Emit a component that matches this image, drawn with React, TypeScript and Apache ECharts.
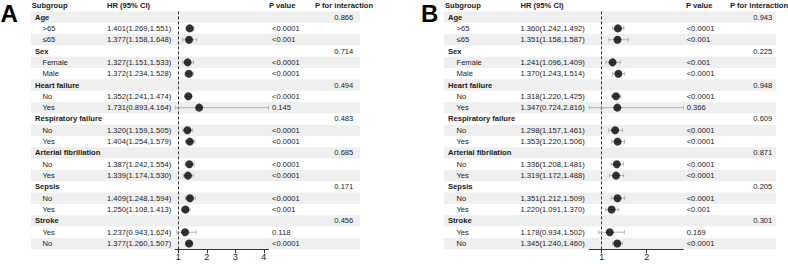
import React, { useEffect, useRef } from "react";
import * as echarts from "echarts";

const FONT = "'Liberation Sans', Arial, Helvetica, sans-serif";

const headers = ["Subgroup", "HR (95% CI)", "P value", "P for interaction"];
const groupRows = [0, 3, 6, 9, 12, 15, 18];

const labelsA = ["Age", ">65", "≤65", "Sex", "Female", "Male", "Heart failure", "No", "Yes", "Respiratory failure", "No", "Yes", "Arterial fibrillation", "No", "Yes", "Sepsis", "No", "Yes", "Stroke", "Yes", "No"];
const hrA = [null, 1.401, 1.377, null, 1.327, 1.372, null, 1.352, 1.731, null, 1.32, 1.404, null, 1.387, 1.339, null, 1.409, 1.25, null, 1.237, 1.377];
const lowA = [null, 1.269, 1.158, null, 1.151, 1.234, null, 1.241, 0.893, null, 1.159, 1.254, null, 1.242, 1.174, null, 1.248, 1.108, null, 0.943, 1.26];
const highA = [null, 1.551, 1.648, null, 1.533, 1.528, null, 1.474, 4.164, null, 1.505, 1.579, null, 1.554, 1.53, null, 1.594, 1.413, null, 1.624, 1.507];
const pA = ["", "<0.0001", "<0.001", "", "<0.0001", "<0.0001", "", "<0.0001", "0.145", "", "<0.0001", "<0.0001", "", "<0.0001", "<0.0001", "", "<0.0001", "<0.001", "", "0.118", "<0.0001"];
const pIntA = ["0.866", "", "", "0.714", "", "", "0.494", "", "", "0.483", "", "", "0.685", "", "", "0.171", "", "", "0.456", "", ""];
const ticksA = [1, 2, 3, 4];

const labelsB = ["Age", ">65", "≤65", "Sex", "Female", "Male", "Heart failure", "No", "Yes", "Respiratory failure", "No", "Yes", "Arterial fibrilation", "No", "Yes", "Sepsis", "No", "Yes", "Stroke", "Yes", "No"];
const hrB = [null, 1.36, 1.351, null, 1.241, 1.37, null, 1.318, 1.347, null, 1.298, 1.353, null, 1.336, 1.319, null, 1.351, 1.22, null, 1.178, 1.345];
const lowB = [null, 1.242, 1.158, null, 1.096, 1.243, null, 1.22, 0.724, null, 1.157, 1.22, null, 1.208, 1.172, null, 1.212, 1.091, null, 0.934, 1.24];
const highB = [null, 1.492, 1.587, null, 1.409, 1.514, null, 1.425, 2.816, null, 1.461, 1.506, null, 1.481, 1.488, null, 1.509, 1.37, null, 1.502, 1.46];
const pB = ["", "<0.0001", "<0.001", "", "<0.001", "<0.0001", "", "<0.0001", "0.366", "", "<0.0001", "<0.0001", "", "<0.0001", "<0.0001", "", "<0.0001", "<0.001", "", "0.169", "<0.0001"];
const pIntB = ["0.943", "", "", "0.225", "", "", "0.948", "", "", "0.609", "", "", "0.871", "", "", "0.205", "", "", "0.301", "", ""];
const ticksB = [1, 2];

const panelLabels = ["A", "B"];

type Layout = {
  stripeL: number; stripeR: number; headX: number; groupX: number; subX: number;
  hrX: number; pX: number; pHeadX: number; pintX: number; pintHeadX: number;
  gridLeft: number; gridWidth: number; letterX: number;
};

const layoutA: Layout = { stripeL: 31, stripeR: 360, headX: 31.7, groupX: 35, subX: 42.5, hrX: 107, pX: 272, pHeadX: 269, pintX: 334.3, pintHeadX: 315, gridLeft: 175.25, gridWidth: 93.25, letterX: 0.5 };
const layoutB: Layout = { stripeL: 444, stripeR: 776, headX: 445, groupX: 448, subX: 456.5, hrX: 520.5, pX: 686.7, pHeadX: 686, pintX: 753.3, pintHeadX: 730, gridLeft: 589.3, gridWidth: 94.1, letterX: 421 };

const GRID_TOP = 11.4;
const GRID_H = 237.8;
const TXT = "#1a1a1a";
const FS = 7.6;

function fmt(v: number) {
  return v.toFixed(3);
}

function textEl(text: string, x: number, y: number, bold: boolean) {
  return {
    type: "text",
    style: {
      text,
      x,
      y,
      fill: TXT,
      fontSize: FS,
      fontFamily: FONT,
      fontWeight: bold ? "bold" : "normal",
      align: "left",
      verticalAlign: "middle",
      textAlign: "left",
      textVerticalAlign: "middle",
    },
  };
}

function buildPanel(
  idx: number,
  L: Layout,
  labels: string[],
  hr: (number | null)[],
  low: (number | null)[],
  high: (number | null)[],
  pv: string[],
  pint: string[],
  ticks: number[]
) {
  const lows = low.filter((v) => v !== null) as number[];
  const highs = high.filter((v) => v !== null) as number[];
  const xmin = Math.min(...lows);
  const xmax = Math.max(...highs);

  const grid = { left: L.gridLeft, top: GRID_TOP, width: L.gridWidth, height: GRID_H };
  const xAxis = {
    type: "value",
    gridIndex: idx,
    min: xmin,
    max: xmax,
    position: "bottom",
    axisLine: { show: true, onZero: false, lineStyle: { color: "#333", width: 1 } },
    axisTick: { show: true, length: 4, customValues: ticks, lineStyle: { color: "#333" } },
    axisLabel: { show: true, customValues: ticks, margin: 3, fontSize: 9, color: TXT, fontFamily: FONT },
    splitLine: { show: false },
  };
  const yAxis = {
    type: "value",
    gridIndex: idx,
    min: -0.5,
    max: 20.5,
    inverse: true,
    show: false,
    axisLine: { onZero: false },
    splitLine: { show: false },
  };

  const stripeData = labels.map((_, i) => [1, i]).filter((d) => d[1] % 2 === 0);
  const stripes = {
    type: "custom",
    xAxisIndex: idx,
    yAxisIndex: idx,
    z: 0,
    silent: true,
    clip: false,
    data: stripeData,
    renderItem: (params: any, api: any) => {
      const r = api.value(1);
      const y0 = api.coord([1, r - 0.5])[1];
      const y1 = api.coord([1, r + 0.5])[1];
      return {
        type: "rect",
        shape: { x: L.stripeL, y: y0, width: L.stripeR - L.stripeL, height: y1 - y0 },
        style: { fill: "#efefef" },
      };
    },
  };

  const ciData: number[][] = [];
  const ptData: number[][] = [];
  hr.forEach((h, i) => {
    if (h !== null) {
      ciData.push([low[i] as number, high[i] as number, i]);
      ptData.push([h, i]);
    }
  });

  const ci = {
    type: "custom",
    xAxisIndex: idx,
    yAxisIndex: idx,
    z: 2,
    silent: true,
    clip: false,
    encode: { x: [0, 1], y: 2 },
    data: ciData,
    renderItem: (params: any, api: any) => {
      const a = api.coord([api.value(0), api.value(2)]);
      const b = api.coord([api.value(1), api.value(2)]);
      const st = { stroke: "#b3b3b3", lineWidth: 1 };
      return {
        type: "group",
        children: [
          { type: "line", shape: { x1: a[0], y1: a[1], x2: b[0], y2: b[1] }, style: st },
          { type: "line", shape: { x1: a[0], y1: a[1] - 2, x2: a[0], y2: a[1] + 2 }, style: st },
          { type: "line", shape: { x1: b[0], y1: b[1] - 2, x2: b[0], y2: b[1] + 2 }, style: st },
        ],
      };
    },
  };

  const pts = {
    type: "scatter",
    xAxisIndex: idx,
    yAxisIndex: idx,
    z: 3,
    silent: true,
    symbol: "circle",
    symbolSize: 8,
    itemStyle: { color: "#000" },
    data: ptData,
    markLine: {
      silent: true,
      symbol: "none",
      label: { show: false },
      lineStyle: { type: [3, 2], color: "#333", width: 1 },
      data: [{ xAxis: 1 }],
      z: 2,
    },
  };

  const textRows = [[1, -1], ...labels.map((_, i) => [1, i])];
  const texts = {
    type: "custom",
    xAxisIndex: idx,
    yAxisIndex: idx,
    z: 5,
    silent: true,
    clip: false,
    data: textRows,
    renderItem: (params: any, api: any) => {
      const r = api.value(1);
      const y = api.coord([1, r])[1];
      const children: any[] = [];
      if (r < 0) {
        children.push(textEl(headers[0], L.headX, y, true));
        children.push(textEl(headers[1], L.hrX, y, true));
        children.push(textEl(headers[2], L.pHeadX, y, true));
        children.push(textEl(headers[3], L.pintHeadX, y, true));
      } else {
        const isGroup = groupRows.indexOf(r) >= 0;
        children.push(textEl(labels[r], isGroup ? L.groupX : L.subX, y, isGroup));
        const h = hr[r];
        if (h !== null) {
          children.push(textEl(`${fmt(h)}(${fmt(low[r] as number)},${fmt(high[r] as number)})`, L.hrX, y, false));
        }
        if (pv[r]) children.push(textEl(pv[r], L.pX, y, false));
        if (pint[r]) children.push(textEl(pint[r], L.pintX, y, false));
      }
      return { type: "group", children };
    },
  };

  return { grid, xAxis, yAxis, series: [stripes, ci, pts, texts] };
}

export default function App() {
  const ref = useRef<HTMLDivElement>(null);
  useEffect(() => {
    if (!ref.current) return;
    const chart = echarts.init(ref.current, undefined, { renderer: "svg" });
    const a = buildPanel(0, layoutA, labelsA, hrA, lowA, highA, pA, pIntA, ticksA);
    const b = buildPanel(1, layoutB, labelsB, hrB, lowB, highB, pB, pIntB, ticksB);
    chart.setOption({
      animation: false,
      backgroundColor: "#ffffff",
      grid: [a.grid, b.grid],
      xAxis: [a.xAxis, b.xAxis],
      yAxis: [a.yAxis, b.yAxis],
      graphic: [layoutA, layoutB].map((L, i) => ({
        type: "text",
        left: L.letterX,
        top: 1,
        style: {
          text: panelLabels[i],
          fontSize: 24,
          fontWeight: "bold",
          fontFamily: FONT,
          fill: "#000",
        },
      })),
      series: [...a.series, ...b.series],
    });
    return () => chart.dispose();
  }, []);
  return (
    <div
      ref={ref}
      style={{ position: "absolute", left: 0, top: 0, width: 788, height: 265 }}
    />
  );
}
